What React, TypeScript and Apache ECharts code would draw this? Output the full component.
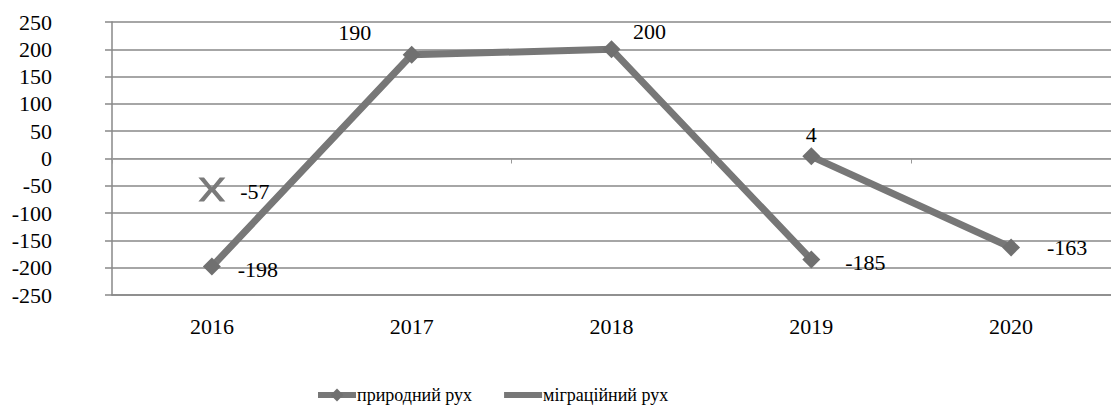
import React, { useEffect, useRef } from "react";
import * as echarts from "echarts";

const years = ["2016", "2017", "2018", "2019", "2020"];
const naturalName = "природний рух";
const migrationName = "міграційний рух";
const naturalValues: (number | null)[] = [-198, 190, 200, -185, null];
const migrationValues: (number | null)[] = [null, null, null, 4, -163];
const markerValues: (number | null)[] = [-57, null, null, 4, -163];

const FONT = "Liberation Serif";
const LINE = "#777777";
const MARK = "#707070";
const GRID = "#888888";

const xMark = "path://M0,0 L5,0 L12,8 L19,0 L24,0 L15,10 L24,20 L19,20 L12,12 L5,20 L0,20 L9,10 Z";

export default function App() {
  const ref = useRef<HTMLDivElement>(null);
  useEffect(() => {
    document.body.style.margin = "0";
    const chart = echarts.init(ref.current!, null, { renderer: "svg" });
    const lbl = (dx: number, dy: number) => ({
      show: true,
      position: "inside",
      offset: [dx, dy],
      fontFamily: FONT,
      fontSize: 22,
      color: "#000",
    });
    const naturalData = naturalValues.map((v, i) => {
      const offs: [number, number][] = [[46, 3], [-57, -22], [38, -18], [54, 3], [0, 0]];
      return { value: v, label: lbl(offs[i][0], offs[i][1]) };
    });
    const markerData = markerValues.map((v, i) => {
      const offs: [number, number][] = [[43, 2], [0, 0], [0, 0], [0, -22], [56, 0]];
      const item: any = { value: v, label: lbl(offs[i][0], offs[i][1]) };
      if (i === 0) {
        item.symbol = xMark;
        item.symbolSize = [27, 24];
        item.itemStyle = { color: "#7a7a7a" };
      }
      return item;
    });
    chart.setOption({
      animation: false,
      textStyle: { fontFamily: FONT },
      grid: { left: 112, top: 22, width: 1010, height: 273 },
      legend: {
        data: [
          { name: naturalName },
          { name: migrationName, itemStyle: { opacity: 0 } },
        ],
        bottom: -2,
        left: 310,
        itemWidth: 38,
        itemHeight: 16,
        itemGap: 29,
        lineStyle: { width: 6, color: LINE },
        textStyle: { fontFamily: FONT, fontSize: 18, color: "#000", padding: [0, 0, 0, -4] },
      },
      xAxis: [
        {
          type: "category",
          data: years,
          boundaryGap: true,
          position: "bottom",
          axisLine: { show: true, onZero: false, lineStyle: { color: GRID, width: 1.5 } },
          axisTick: { show: false },
          axisLabel: { fontFamily: FONT, fontSize: 22, color: "#000", margin: 20 },
        },
        {
          type: "category",
          data: years,
          boundaryGap: true,
          position: "bottom",
          axisLine: { show: true, onZero: true, lineStyle: { color: "#999999", width: 1.2 } },
          axisTick: { show: true, length: 5, interval: 0, lineStyle: { color: "#999999" } },
          axisLabel: { show: false },
        },
      ],
      yAxis: {
        type: "value",
        min: -250,
        max: 250,
        interval: 50,
        axisLine: { show: true, lineStyle: { color: GRID, width: 1.5 } },
        axisTick: { show: true, length: 7, lineStyle: { color: GRID, width: 1.5 } },
        splitLine: { show: true, lineStyle: { color: GRID, width: 1.5 } },
        axisLabel: { fontFamily: FONT, fontSize: 22, color: "#000", margin: 60, align: "right" },
      },
      series: [
        {
          name: naturalName,
          type: "line",
          data: naturalData,
          symbol: "diamond",
          symbolSize: 18,
          itemStyle: { color: MARK },
          lineStyle: { color: LINE, width: 7 },
          connectNulls: false,
          z: 3,
        },
        {
          name: migrationName,
          type: "line",
          data: migrationValues,
          symbol: "none",
          itemStyle: { color: LINE },
          lineStyle: { color: LINE, width: 7 },
          connectNulls: false,
          z: 2,
        },
        {
          name: "markers",
          type: "line",
          data: markerData,
          symbol: "diamond",
          symbolSize: 18,
          itemStyle: { color: MARK },
          lineStyle: { width: 0, opacity: 0 },
          connectNulls: false,
          z: 4,
        },
      ],
    });
    return () => chart.dispose();
  }, []);
  return <div ref={ref} style={{ width: 1111, height: 407 }} />;
}
